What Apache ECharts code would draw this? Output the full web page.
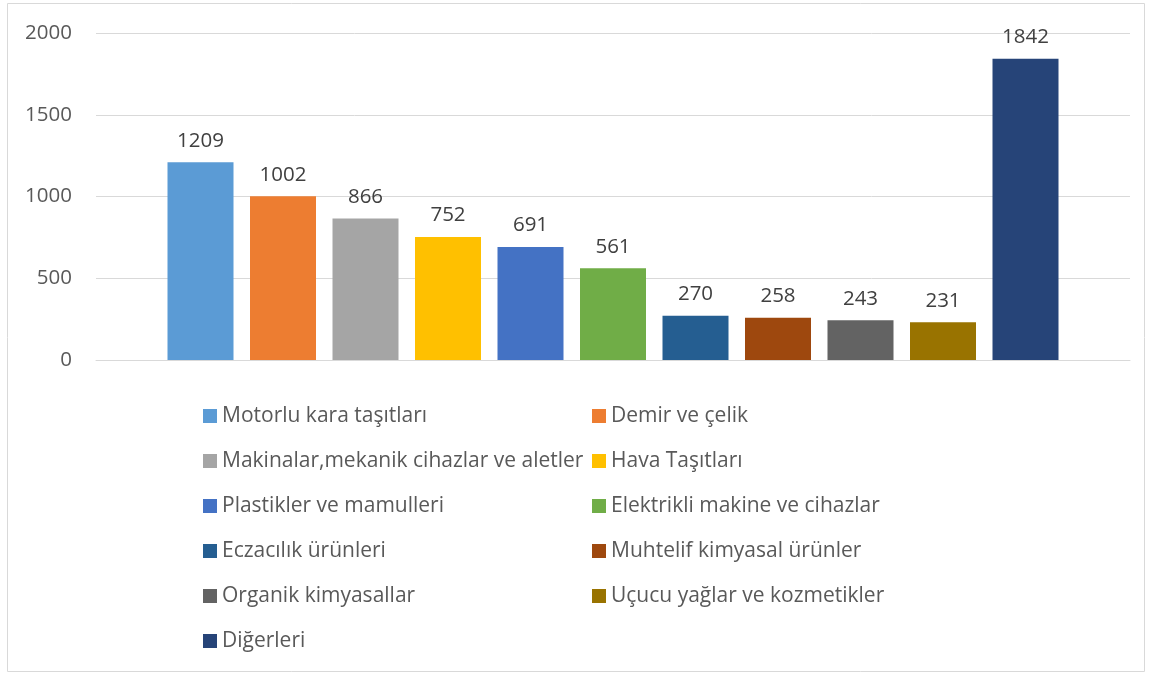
<!DOCTYPE html>
<html><head><meta charset="utf-8">
<script src="https://cdn.jsdelivr.net/npm/echarts@6/dist/echarts.min.js"></script>
<style>html,body{margin:0;padding:0;background:#fff}#c{width:1149px;height:676px}</style>
</head><body><div id="c"></div>
<script>
const categories = ['Motorlu kara taşıtları','Demir ve çelik','Makinalar,mekanik cihazlar ve aletler','Hava Taşıtları','Plastikler ve mamulleri','Elektrikli makine ve cihazlar','Eczacılık ürünleri','Muhtelif kimyasal ürünler','Organik kimyasallar','Uçucu yağlar ve kozmetikler','Diğerleri'];
const values = [1209,1002,866,752,691,561,270,258,243,231,1842];
const colors = ['#5B9BD5','#ED7D31','#A5A5A5','#FFC000','#4472C4','#70AD47','#255E91','#9E480E','#636363','#997300','#264478'];
const yTicks = [0,500,1000,1500,2000];

const FONT = 'Open Sans';
const chart = echarts.init(document.getElementById('c'));
const leftCol = categories.filter((_, i) => i % 2 === 0);
const rightCol = categories.filter((_, i) => i % 2 === 1);
const legendBase = {
  orient: 'vertical', top: 405, itemWidth: 14, itemHeight: 14, itemGap: 23,
  icon: 'rect',
  textStyle: { fontFamily: FONT, fontSize: 21, color: '#595959', lineHeight: 22 },
  padding: 0
};
chart.setOption({
  animation: false,
  textStyle: { fontFamily: FONT },
  graphic: [{ type: 'rect', shape: { x: 7.5, y: 3.5, width: 1137, height: 668 }, style: { fill: 'none', stroke: '#D9D9D9', lineWidth: 1 }, silent: true }],
  grid: { left: 96, right: 19, top: 33, bottom: 316 },
  legend: [
    Object.assign({}, legendBase, { left: 203, data: leftCol }),
    Object.assign({}, legendBase, { left: 592, data: rightCol })
  ],
  xAxis: { type: 'category', data: [''], axisLine: { lineStyle: { color: '#D9D9D9' } }, axisTick: { show: false }, axisLabel: { show: false } },
  yAxis: {
    type: 'value', min: yTicks[0], max: yTicks[yTicks.length - 1], interval: 500,
    axisLine: { show: false }, axisTick: { show: false },
    axisLabel: { fontFamily: FONT, fontSize: 20.5, color: '#595959', margin: 24, formatter: v => String(v) },
    splitLine: { lineStyle: { color: '#D9D9D9', width: 1 } }
  },
  series: categories.map((name, i) => ({
    name, type: 'bar', data: [values[i]], barWidth: 66, barGap: '25%',
    itemStyle: { color: colors[i] },
    label: { show: true, position: 'top', distance: 11, fontFamily: FONT, fontSize: 20.5, color: '#404040' }
  }))
});
</script></body></html>
